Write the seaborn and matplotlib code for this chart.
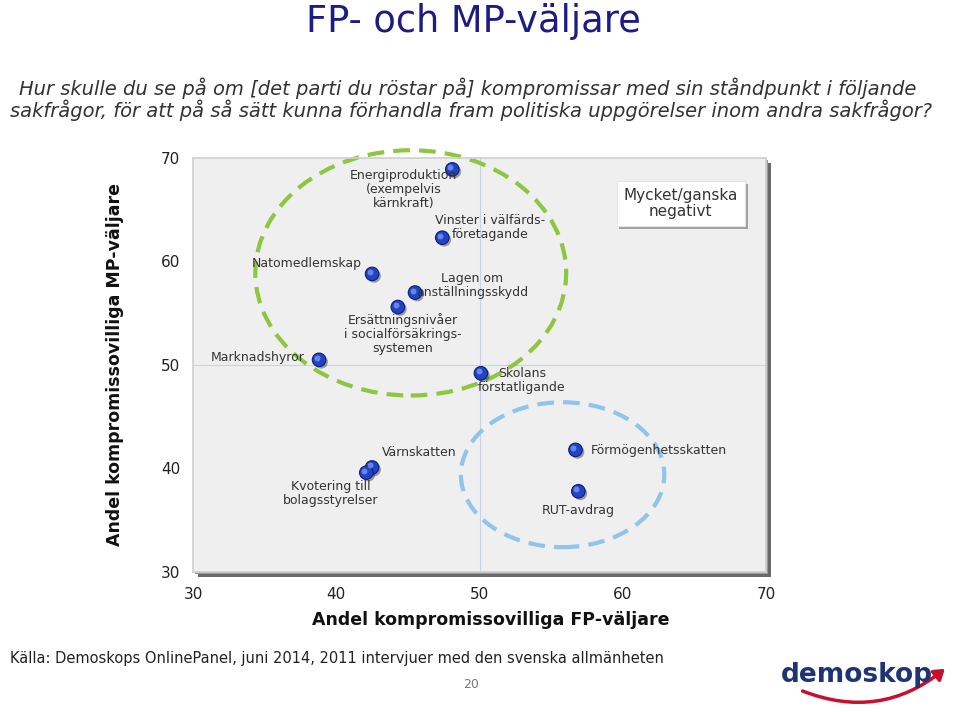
import matplotlib
matplotlib.use('Agg')
import matplotlib.pyplot as plt
import matplotlib.patheffects as pe
import matplotlib.transforms as mtransforms
from matplotlib.patches import Ellipse, Rectangle, FancyArrowPatch
import seaborn as sns
import pandas as pd

# ---------------- data ----------------
issues = ["Energiproduktion\n(exempelvis\nkärnkraft)",
          "Vinster i välfärds-\nföretagande",
          "Natomedlemskap",
          "Lagen om\nanställningsskydd",
          "Ersättningsnivåer\ni socialförsäkrings-\nsystemen",
          "Marknadshyror",
          "Skolans\nförstatligande",
          "Värnskatten",
          "Kvotering till\nbolagsstyrelser",
          "Förmögenhetsskatten",
          "RUT-avdrag"]
fp_share = [48.1, 47.4, 42.5, 45.5, 44.3, 38.8, 50.1, 42.5, 42.1, 56.7, 56.9]
mp_share = [68.9, 62.3, 58.8, 57.0, 55.6, 50.5, 49.2, 40.1, 39.6, 41.8, 37.8]
ticks = [30, 40, 50, 60, 70]

# label layout: (dx px, dy px (down positive), ha)
label_layout = [(-49, 20, 'center'), (48, -10, 'center'), (-10, -10, 'right'),
                (57, -7, 'center'), (5, 27, 'center'), (-14, -2, 'right'),
                (41, 7, 'center'), (10, -15, 'left'), (-36, 21, 'center'),
                (15, 1, 'left'), (0, 19, 'center')]

df = pd.DataFrame({"issue": issues, "fp": fp_share, "mp": mp_share})

sns.set_theme(style="white")
plt.rcParams['font.family'] = ['DejaVu Sans']

W, H = 960, 712
fig = plt.figure(figsize=(W / 100, H / 100), dpi=100)
fig.patch.set_facecolor('white')

L, R, T, B = 193, 766, 158, 572
ax = fig.add_axes([L / W, 1 - B / H, (R - L) / W, (B - T) / H])
ax.set_facecolor('#efefef')

# shadow behind plot box
fig.patches.append(Rectangle(((L + 5) / W, 1 - (B + 5) / H), (R - L) / W, (B - T) / H,
                             transform=fig.transFigure, facecolor='#6a6a6a',
                             edgecolor='none', zorder=-2))
fig.patches.append(Rectangle(((L + 2) / W, 1 - (B + 2) / H), (R - L) / W, (B - T) / H,
                             transform=fig.transFigure, facecolor='#9a9a9a',
                             edgecolor='none', zorder=-1))

ax.axvline(50, color='#c9d2e6', lw=0.8, zorder=1)
ax.axhline(50, color='#c9d2e6', lw=0.8, zorder=1)

# ellipses
ax.add_patch(Ellipse((45.2, 58.9), 21.7, 23.7, fill=False, edgecolor='#8dc63f',
                     lw=3, linestyle=(0, (4, 2.2)), clip_on=False, zorder=2))
ax.add_patch(Ellipse((55.8, 39.4), 14.2, 14.0, fill=False, edgecolor='#8fc4ec',
                     lw=3, linestyle=(0, (4, 2.2)), clip_on=False, zorder=2))

sns.scatterplot(data=df, x="fp", y="mp", s=95, color='#2144c4', edgecolor='#0c1d7a',
                linewidth=0.8, ax=ax, zorder=5, legend=False)
coll = ax.collections[-1]
coll.set_path_effects([pe.SimplePatchShadow(offset=(1.5, -1.5), shadow_rgbFace='#333333', alpha=0.45),
                       pe.Normal()])
hl = mtransforms.offset_copy(ax.transData, fig=fig, x=-2, y=2, units='dots')
ax.scatter(df["fp"], df["mp"], s=18, color='#7f9cf2', alpha=0.75, linewidths=0,
           transform=hl, zorder=6)

for name, x, y, (dx, dy, ha) in zip(issues, fp_share, mp_share, label_layout):
    ax.annotate(name, (x, y), xytext=(dx * 0.72, -dy * 0.72), textcoords='offset points',
                ha=ha, va='center', multialignment='center', fontsize=9,
                color='#333333', linespacing=1.1, zorder=7)

ax.set_xlim(30, 70)
ax.set_ylim(30, 70)
ax.set_xticks(ticks)
ax.set_yticks(ticks)
ax.tick_params(axis='x', length=0, pad=11, labelsize=11, labelcolor='#222222')
ax.tick_params(axis='y', length=0, pad=9, labelsize=11, labelcolor='#222222')
ax.set_xlabel('')
ax.set_ylabel('')
for s in ax.spines.values():
    s.set_color('#cfcfcf')
    s.set_linewidth(1.2)

# legend-like box
t = ax.text(64.05, 65.6, "Mycket/ganska\nnegativt", ha='center', va='center', fontsize=11,
            color='#333333', linespacing=1.15, zorder=8,
            bbox=dict(boxstyle='square,pad=0.45', facecolor='white', edgecolor='#e4e4e4', lw=0.8))
t.get_bbox_patch().set_path_effects([pe.SimplePatchShadow(offset=(2, -2), shadow_rgbFace='#555555', alpha=0.5),
                                     pe.Normal()])

# titles
fig.text(473 / W, 1 - 21 / H, "FP- och MP-väljare", ha='center', va='center',
         fontsize=26.5, color='#1c1c84')
fig.text(468 / W, 1 - 88 / H,
         "Hur skulle du se på om [det parti du röstar på] kompromissar med sin ståndpunkt i följande",
         ha='center', va='center', fontsize=14.0, style='italic', color='#333333')
fig.text(471 / W, 1 - 110 / H,
         "sakfrågor, för att på så sätt kunna förhandla fram politiska uppgörelser inom andra sakfrågor?",
         ha='center', va='center', fontsize=14.0, style='italic', color='#333333')

fig.text(491 / W, 1 - 620 / H, "Andel kompromissovilliga FP-väljare", ha='center', va='center',
         fontsize=12.5, fontweight='bold', color='#111111')
fig.text(115 / W, 1 - 365 / H, "Andel kompromissovilliga MP-väljare", ha='center', va='center',
         rotation=90, fontsize=12.5, fontweight='bold', color='#111111')

# footer
fig.text(10 / W, 1 - 658 / H,
         "Källa: Demoskops OnlinePanel, juni 2014, 2011 intervjuer med den svenska allmänheten",
         ha='left', va='center', fontsize=10.5, color='#222222')
fig.text(471 / W, 1 - 685 / H, "20", ha='center', va='center', fontsize=9, color='#777777')

# logo
fig.text(857 / W, 1 - 675 / H, "demoskop", ha='center', va='center', fontsize=19,
         fontweight='bold', color='#1f3473')
arc = FancyArrowPatch((800 / W, 1 - 690 / H), (947 / W, 1 - 667 / H), transform=fig.transFigure,
                      connectionstyle="arc3,rad=0.3", arrowstyle='-|>,head_length=6,head_width=4',
                      color='#c8102e', lw=2.5)
fig.patches.append(arc)

fig.savefig("out.png", dpi=100)
